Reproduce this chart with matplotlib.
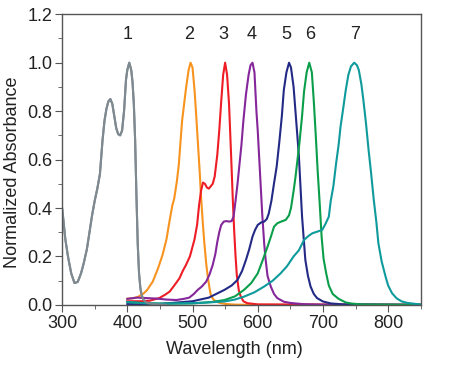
import matplotlib
matplotlib.use('Agg')
import matplotlib.pyplot as plt
from matplotlib.ticker import MultipleLocator

# wavelength (nm) / normalized absorbance
wl1 = [300, 302, 305, 309, 314, 319, 324, 329, 333, 338, 342, 346, 350, 354, 358,
       362, 365, 368, 371, 374, 377, 380, 383, 386, 389, 392, 395, 398, 400, 403,
       406, 408, 410, 412, 414, 416, 418, 420, 422, 425, 428, 432, 440, 460]
ab1 = [0.40, 0.35, 0.27, 0.20, 0.13, 0.09, 0.095, 0.13, 0.17, 0.23, 0.30, 0.37, 0.43,
       0.48, 0.54, 0.68, 0.76, 0.81, 0.84, 0.85, 0.83, 0.78, 0.73, 0.705, 0.70, 0.72,
       0.80, 0.93, 0.97, 1.0, 0.97, 0.92, 0.83, 0.68, 0.45, 0.25, 0.13, 0.07, 0.04,
       0.02, 0.012, 0.007, 0.003, 0.0]

wl2 = [400, 410, 417, 424, 430, 439, 447, 454, 460, 465, 469, 472, 476, 479, 484,
       490, 494, 497, 500, 503, 505, 508, 511, 513, 516, 518, 521, 523, 526, 528,
       532, 536, 542, 550, 565, 600, 850]
ab2 = [0.025, 0.028, 0.034, 0.045, 0.06, 0.096, 0.15, 0.206, 0.27, 0.35, 0.41, 0.44,
       0.51, 0.58, 0.76, 0.894, 0.97, 1.0, 0.98, 0.89, 0.81, 0.68, 0.55, 0.45, 0.33,
       0.26, 0.17, 0.124, 0.07, 0.041, 0.022, 0.014, 0.008, 0.004, 0.001, 0.0, 0.0]

wl3 = [400, 420, 434, 449, 458, 465, 472, 480, 485, 490, 496, 503, 507, 510, 513,
       516, 519, 522, 525, 528, 531, 534, 538, 541, 544, 547, 550, 553, 556, 559,
       562, 564, 566, 568, 571, 574, 578, 584, 600, 850]
ab3 = [0.015, 0.015, 0.017, 0.028, 0.042, 0.055, 0.08, 0.11, 0.14, 0.165, 0.20, 0.27,
       0.33, 0.41, 0.47, 0.505, 0.50, 0.485, 0.48, 0.49, 0.50, 0.53, 0.62, 0.72, 0.84,
       0.95, 1.0, 0.95, 0.83, 0.63, 0.42, 0.30, 0.20, 0.12, 0.06, 0.034, 0.015, 0.007,
       0.002, 0.0]

wl4 = [400, 415, 430, 445, 460, 475, 487, 495, 502, 508, 514, 521, 526, 531, 535,
       538, 541, 544, 548, 552, 556, 560, 563, 566, 569, 572, 575, 578, 582, 586,
       589, 592, 595, 598, 600, 602, 604, 607, 610, 612, 615, 620, 625, 630, 640,
       650, 670, 700, 850]
ab4 = [0.025, 0.03, 0.028, 0.026, 0.022, 0.02, 0.025, 0.03, 0.045, 0.062, 0.075,
       0.096, 0.125, 0.165, 0.21, 0.26, 0.30, 0.33, 0.344, 0.346, 0.344, 0.346, 0.365,
       0.43, 0.50, 0.58, 0.66, 0.76, 0.87, 0.95, 0.99, 1.0, 0.96, 0.80, 0.72, 0.62,
       0.52, 0.37, 0.25, 0.19, 0.12, 0.076, 0.045, 0.028, 0.013, 0.008, 0.003, 0.001,
       0.0]

wl5 = [400, 450, 500, 525, 549, 560, 569, 576, 582, 587, 592, 596, 600, 605, 610,
       614, 617, 621, 625, 629, 633, 637, 640, 644, 648, 651, 655, 659, 663, 668,
       673, 677, 681, 686, 691, 700, 712, 730, 850]
ab5 = [0.003, 0.004, 0.015, 0.03, 0.062, 0.08, 0.103, 0.14, 0.186, 0.23, 0.282, 0.31,
       0.33, 0.34, 0.344, 0.355, 0.378, 0.43, 0.502, 0.57, 0.67, 0.78, 0.887, 0.96,
       1.0, 0.98, 0.90, 0.76, 0.62, 0.364, 0.186, 0.12, 0.076, 0.045, 0.028, 0.014,
       0.006, 0.002, 0.0]

wl6 = [400, 420, 450, 500, 530, 549, 565, 579, 590, 600, 607, 615, 620, 625, 630,
       636, 643, 648, 651, 655, 658, 661, 664, 668, 671, 675, 679, 683, 686, 689,
       692, 695, 698, 701, 705, 709, 715, 724, 735, 745, 760, 850]
ab6 = [0.012, 0.008, 0.005, 0.006, 0.012, 0.02, 0.035, 0.062, 0.09, 0.13, 0.18, 0.24,
       0.28, 0.323, 0.337, 0.344, 0.351, 0.37, 0.40, 0.47, 0.53, 0.60, 0.67, 0.78,
       0.88, 0.96, 1.0, 0.96, 0.84, 0.70, 0.55, 0.42, 0.28, 0.19, 0.13, 0.08, 0.045,
       0.025, 0.01, 0.005, 0.002, 0.0]

wl7 = [400, 410, 425, 450, 480, 510, 530, 549, 565, 579, 595, 610, 623, 635, 645,
       655, 663, 671, 678, 684, 692, 699, 704, 709, 712, 716, 720, 724, 727, 731,
       735, 739, 743, 748, 752, 755, 759, 762, 766, 770, 774, 778, 782, 785, 790,
       796, 800, 806, 813, 821, 830, 842, 850]
ab7 = [0.012, 0.01, 0.007, 0.005, 0.006, 0.008, 0.011, 0.014, 0.022, 0.034, 0.052,
       0.076, 0.10, 0.13, 0.16, 0.20, 0.225, 0.268, 0.285, 0.296, 0.303, 0.31, 0.335,
       0.364, 0.43, 0.49, 0.58, 0.66, 0.736, 0.81, 0.887, 0.95, 0.985, 1.0, 0.99,
       0.97, 0.91, 0.846, 0.75, 0.64, 0.54, 0.433, 0.34, 0.255, 0.18, 0.117, 0.08,
       0.048, 0.027, 0.014, 0.008, 0.004, 0.002]

labels = ['1', '2', '3', '4', '5', '6', '7']
label_x = [400, 495, 548, 590, 644, 680, 749]
colors = ['#7f8990', '#f7931e', '#ee1c25', '#85279a', '#222a85', '#0a9e4a', '#0f9a9c']


def main():
    plt.rcParams['font.family'] = ['Liberation Sans', 'DejaVu Sans']
    fig = plt.figure(figsize=(4.5, 3.66), dpi=100)
    ax = fig.add_axes([0.138, 0.167, 0.797, 0.794])

    series = [(wl1, ab1), (wl2, ab2), (wl3, ab3), (wl4, ab4),
              (wl5, ab5), (wl6, ab6), (wl7, ab7)]
    for (x, y), c in zip(series, colors):
        ax.plot(x, y, color=c, lw=1.5, solid_joinstyle='round')
    # gray curve sits on top at the bottom left
    ax.plot(wl1, ab1, color=colors[0], lw=1.5, solid_joinstyle='round')

    for t, x in zip(labels, label_x):
        ax.text(x, 1.115, t, ha='center', va='center', fontsize=13, color='#222222')

    ax.set_xlim(300, 850)
    ax.set_ylim(0, 1.2)
    ax.xaxis.set_minor_locator(MultipleLocator(50))
    ax.yaxis.set_minor_locator(MultipleLocator(0.1))
    ax.set_xticks([300, 400, 500, 600, 700, 800])
    ax.set_yticks([0.0, 0.2, 0.4, 0.6, 0.8, 1.0, 1.2])
    ax.set_yticklabels(['0.0', '0.2', '0.4', '0.6', '0.8', '1.0', '1.2'])

    for s in ax.spines.values():
        s.set_color('#555555')
        s.set_linewidth(1.0)
    ax.tick_params(which='both', direction='out', color='#555555',
                   labelcolor='#222222', labelsize=13, top=False, right=False)
    ax.tick_params(which='major', length=5, pad=2)
    ax.tick_params(which='minor', length=3)

    ax.set_xlabel('Wavelength (nm)', fontsize=13, color='#222222')
    ax.set_ylabel('Normalized Absorbance', fontsize=13, color='#222222')
    ax.xaxis.set_label_coords(0.479, -0.155)
    ax.yaxis.set_label_coords(-0.139, 0.457)
    ax.xaxis.label.set_va('center')
    ax.yaxis.label.set_va('center')

    fig.savefig('out.png', dpi=100)


if __name__ == "__main__":
    main()
